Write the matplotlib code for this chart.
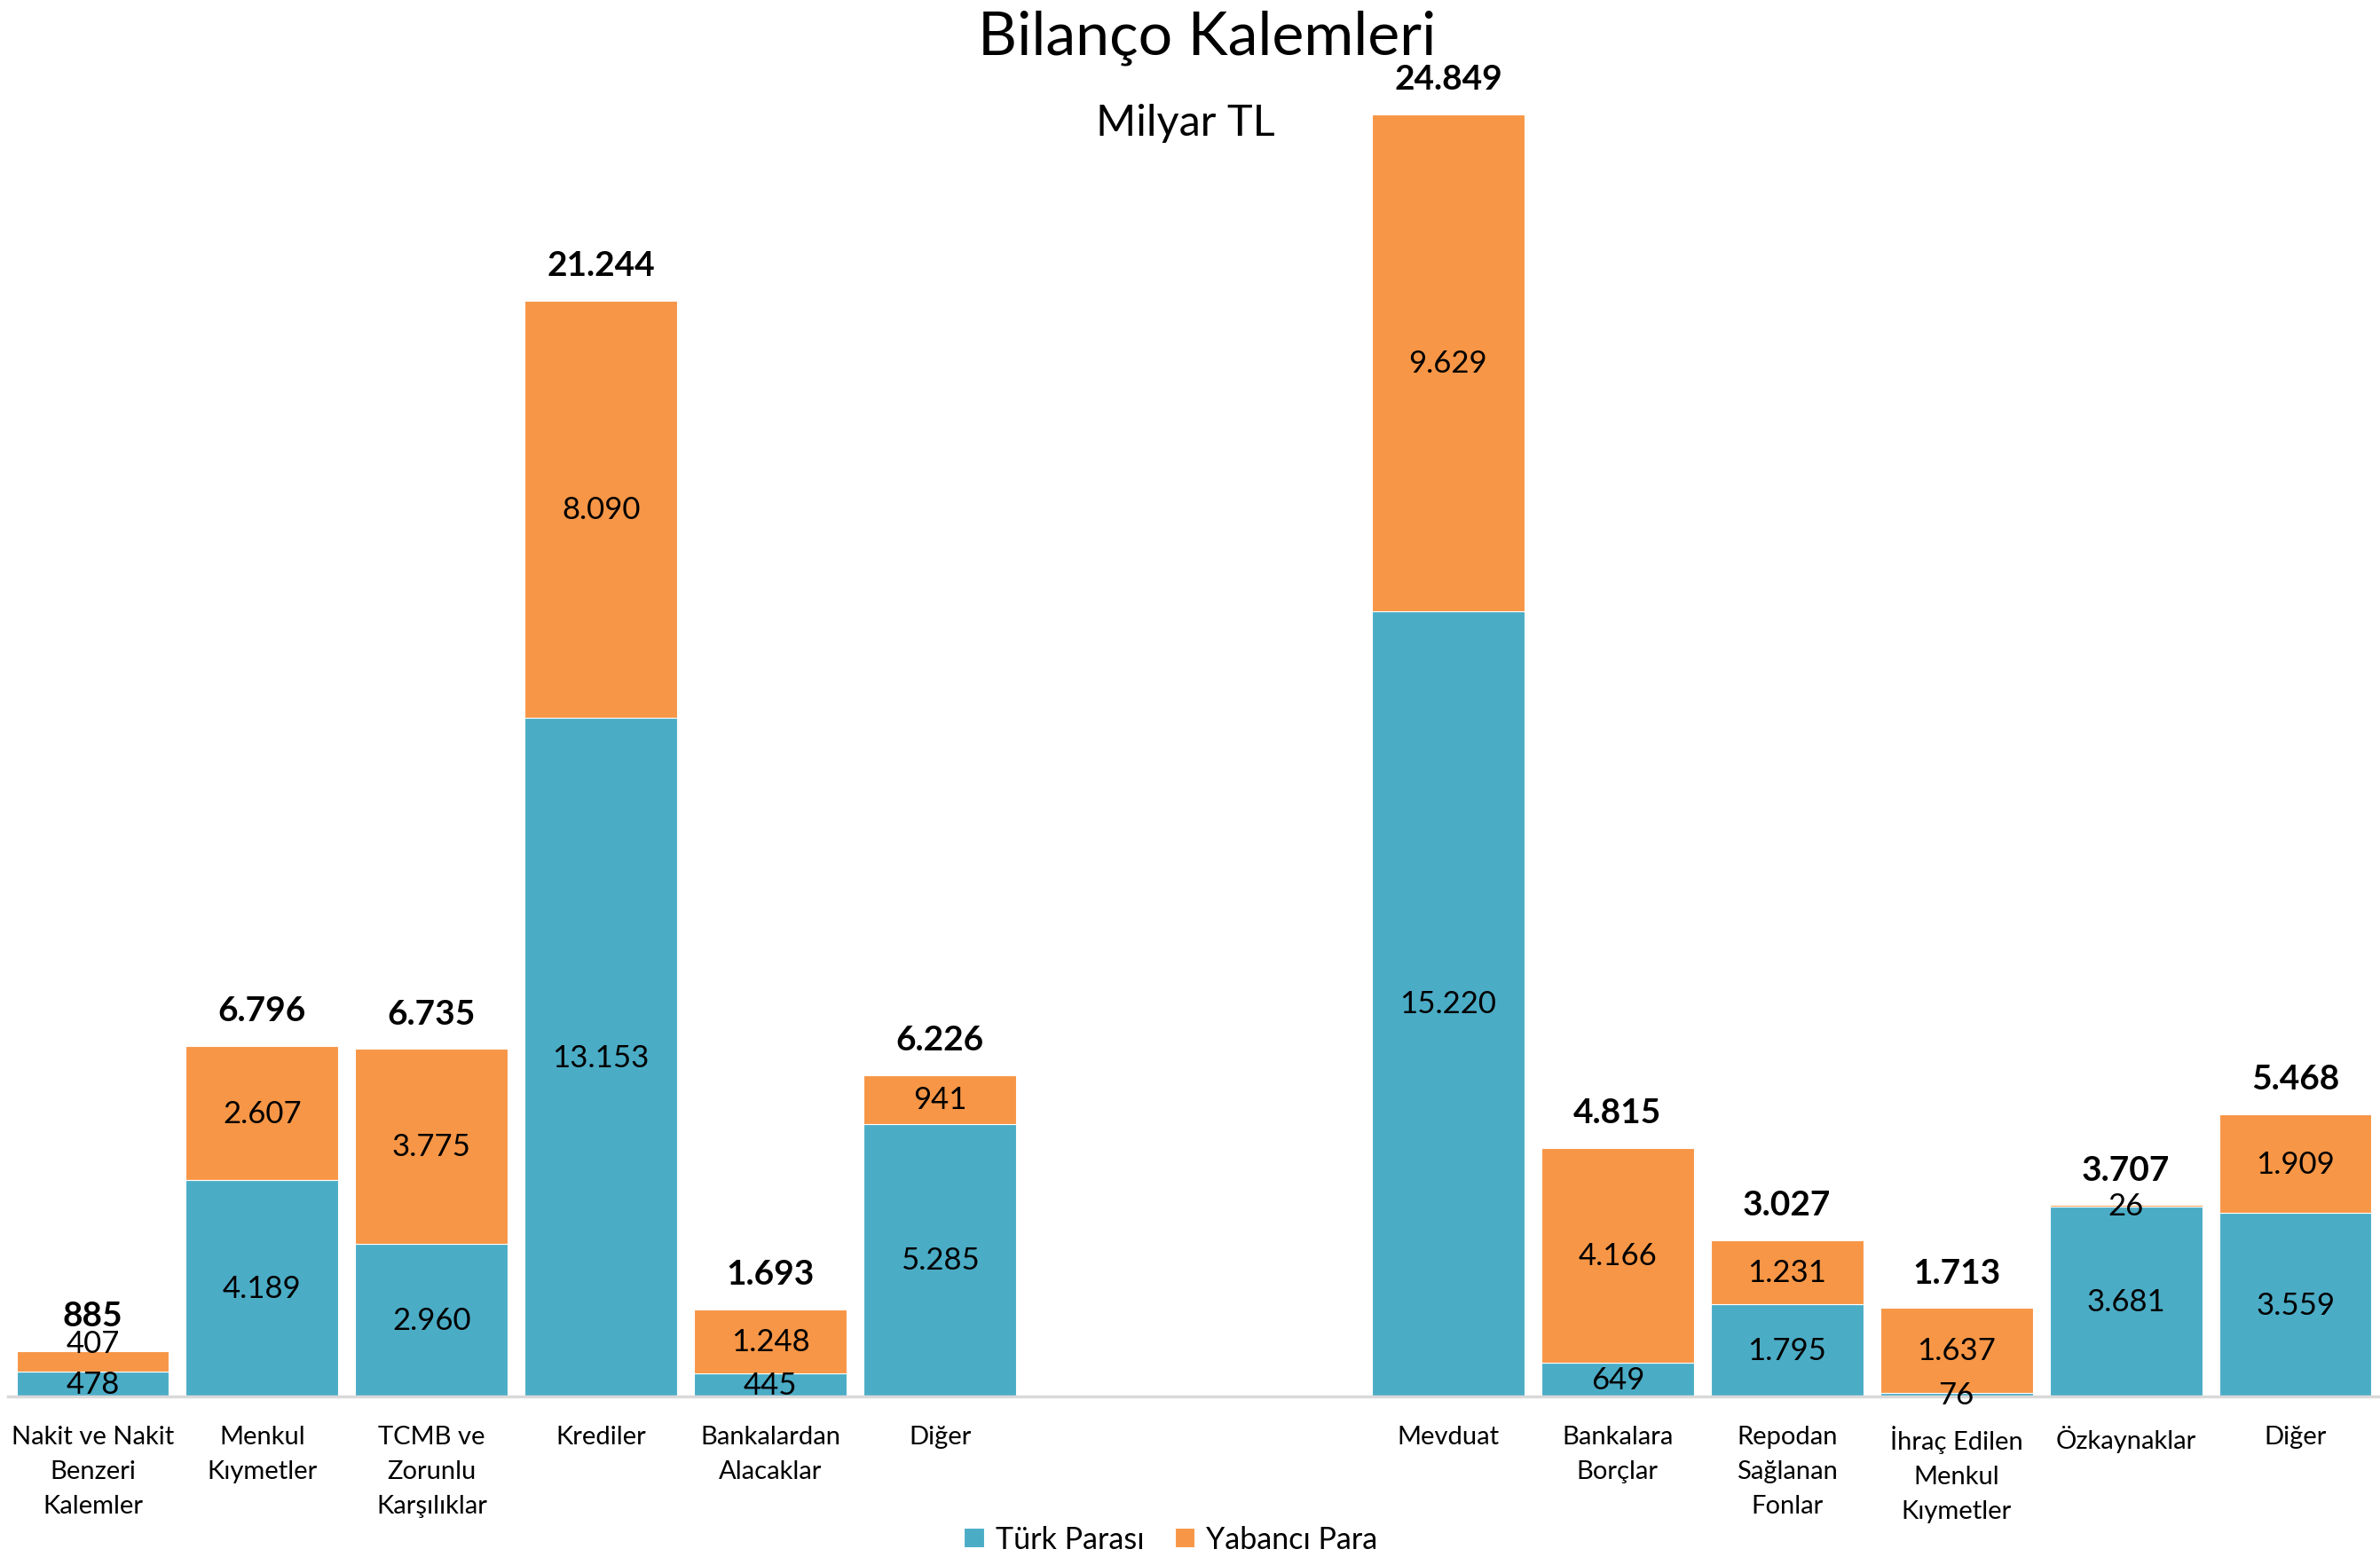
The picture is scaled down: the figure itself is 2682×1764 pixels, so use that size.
import numpy as np
import matplotlib.pyplot as plt

# --- Data (Milyar TL) ---
categories = ["Nakit ve Nakit\nBenzeri\nKalemler", "Menkul\nKıymetler", "TCMB ve\nZorunlu\nKarşılıklar",
              "Krediler", "Bankalardan\nAlacaklar", "Diğer", "", "",
              "Mevduat", "Bankalara\nBorçlar", "Repodan\nSağlanan\nFonlar",
              "İhraç Edilen\nMenkul\nKıymetler", "Özkaynaklar", "Diğer"]
turk_parasi = [478, 4189, 2960, 13153, 445, 5285, 0, 0, 15220, 649, 1795, 76, 3681, 3559]
yabanci_para = [407, 2607, 3775, 8090, 1248, 941, 0, 0, 9629, 4166, 1231, 1637, 26, 1909]
totals = [885, 6796, 6735, 21244, 1693, 6226, None, None, 24849, 4815, 3027, 1713, 3707, 5468]

BLUE = "#4BACC6"
ORANGE = "#F79646"
FONT = "Lato"


def fmt(v):
    return f"{v:,}".replace(",", ".")


plt.rcParams['font.family'] = [FONT, 'DejaVu Sans']

fig = plt.figure(figsize=(26.82, 17.65), dpi=100)
ax = fig.add_axes([9 / 2682, 1 - 1575 / 1765, 2673 / 2682, (1575 - 130) / 1765])

x = np.arange(len(categories))
tp = np.array(turk_parasi)
yp = np.array(yabanci_para)
mask = np.array([t is not None for t in totals])

ax.bar(x[mask], tp[mask], width=0.9, color=BLUE, edgecolor="white", linewidth=0.8, label="Türk Parası")
ax.bar(x[mask], yp[mask], width=0.9, bottom=tp[mask], color=ORANGE, edgecolor="white", linewidth=0.8,
       label="Yabancı Para")

for i in x[mask]:
    ax.text(i, tp[i] / 2, fmt(tp[i]), ha="center", va="center", fontsize=25)
    if tp[i] < 1000 and yp[i] < 1000:
        # both pieces too thin: Excel pushes the upper label above the bar
        ax.annotate(fmt(yp[i]), (i, tp[i] + yp[i]), xytext=(0, 6), textcoords="offset points",
                    ha="center", va="center", fontsize=25)
    else:
        ax.text(i, tp[i] + yp[i] / 2, fmt(yp[i]), ha="center", va="center", fontsize=25)
    ax.annotate(fmt(totals[i]), (i, tp[i] + yp[i]), xytext=(0, 29), textcoords="offset points",
                ha="center", va="center", fontsize=28, fontweight="bold")

ax.set_xlim(-0.5, len(categories) - 0.5)
ax.set_ylim(0, 24849)
ax.set_xticks(x)
ax.set_xticklabels(categories, fontsize=21, linespacing=1.62, va="top")
ax.tick_params(axis="x", length=0, pad=23)
ax.set_yticks([])
for s in ["top", "right", "left"]:
    ax.spines[s].set_visible(False)
ax.spines["bottom"].set_color("#D9D9D9")
ax.spines["bottom"].set_linewidth(2.5)

fig.text(0.507, 1 - 43 / 1765, "Bilanço Kalemleri", ha="center", va="center", fontsize=49)
fig.text(0.498, 1 - 139 / 1765, "Milyar TL", ha="center", va="center", fontsize=35)

fig.legend(loc="center", bbox_to_anchor=(0.492, 1 - 1736 / 1765), ncol=2, frameon=False, fontsize=24.5,
           handlelength=0.65, handleheight=0.65, columnspacing=1.0, handletextpad=0.4)

fig.savefig("out.png", dpi=100)
